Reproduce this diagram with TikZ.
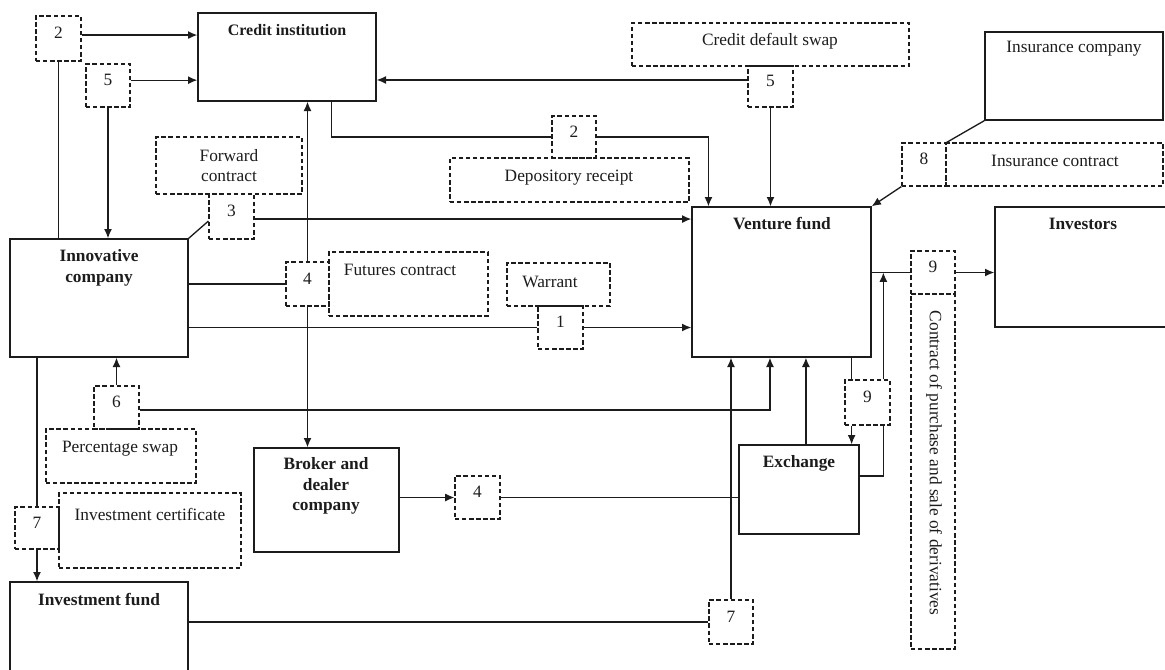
\documentclass[tikz,border=0pt]{standalone}
\usepackage{fontspec}
\setmainfont{Liberation Serif}
\usetikzlibrary{arrows.meta,calc,fit}
\definecolor{InkDark}{HTML}{1C1C1C}

\begin{document}
\begin{tikzpicture}[x=0.75pt,y=-0.75pt, color=InkDark, line width=1pt,
  every node/.style={font=\fontsize{13}{15}\selectfont},
  solidbox/.style={draw, inner sep=0pt},
  dashbox/.style={draw, line width=0.85pt, dash pattern=on 3.3pt off 2pt, inner sep=0pt, align=center},
  title/.style={font=\fontsize{13}{15.5}\selectfont\bfseries, align=center},
  arr/.style={-{Latex[length=7pt,width=6pt]}}]
  \useasboundingbox (0,0) rectangle (1165,669);
  % main boxes
  \node[solidbox, fit={(198,13) (376,101)}] (credit) {};
  \node[solidbox, fit={(985,32) (1163,120)}] (insco) {};
  \node[solidbox, fit={(692,207) (871,357)}] (venture) {};
  \node[solidbox, fit={(995,207) (1185,327)}] (investors) {};
  \node[solidbox, fit={(10,239) (188,357)}] (innov) {};
  \node[solidbox, fit={(254,448) (399,552)}] (broker) {};
  \node[solidbox, fit={(739,445) (859,534)}] (exchange) {};
  \node[solidbox, fit={(10,582) (188,690)}] (invfund) {};
  \node[title, font=\fontsize{12}{14}\selectfont\bfseries] (creditT) at (287,30) {Credit institution};
  \node (inscoT) at (1074,49) {Insurance company};
  \node[title] (ventureT) at (782,224) {Venture fund};
  \node[title] (investorsT) at (1083,224) {Investors};
  \node[title] (innovT) at (99,268) {Innovative\\company};
  \node[title] (brokerT) at (326,486) {Broker and\\dealer\\company};
  \node[title] (exchangeT) at (799,463) {Exchange};
  \node[title] (invfundT) at (99,599) {Investment fund};
  % contract boxes
  \node[dashbox, fit={(36,16) (81,61)}] (nA2) {2};
  \node[dashbox, fit={(86,64) (130,107)}] (nA5) {5};
  \node[dashbox, fit={(156,137) (302,194)}] (fwd) {};
  \node[align=center] (fwdT) at (229,166) {Forward\\contract};
  \node[dashbox, fit={(209,194) (254,239)}] (n3) {3};
  \node[dashbox, fit={(632,23) (909,66)}] (cds) {};
  \node (cdsT) at (770,41) {Credit default swap};
  \node[dashbox, fit={(748,66) (793,107)}] (nB5) {5};
  \node[dashbox, fit={(552,116) (596,158)}] (nB2) {2};
  \node[dashbox, fit={(450,158) (689,202)}] (dep) {};
  \node (depT) at (569,178) {Depository receipt};
  \node[dashbox, fit={(902,143) (946,186)}] (n8) {8};
  \node[dashbox, fit={(946,143) (1163,186)}] (inscon) {};
  \node (insconT) at (1055,161) {Insurance contract};
  \node[dashbox, fit={(286,262) (329,306)}] (n4) {4};
  \node[dashbox, fit={(329,252) (488,316)}] (fut) {};
  \node (futT) at (400,270) {Futures contract};
  \node[dashbox, fit={(507,263) (610,306)}] (warr) {};
  \node (warrT) at (550,282) {Warrant};
  \node[dashbox, fit={(538,306) (583,349)}] (n1) {1};
  \node[dashbox, fit={(94,386) (139,429)}] (n6) {6};
  \node[dashbox, fit={(46,429) (196,483)}] (pct) {};
  \node (pctT) at (120,449) {Percentage swap};
  \node[dashbox, fit={(15,507) (59,549)}] (nC7) {7};
  \node[dashbox, fit={(59,493) (241,568)}] (invc) {};
  \node (invcT) at (150,514) {Investment certificate};
  \node[dashbox, fit={(455,476) (500,519)}] (nC4) {4};
  \node[dashbox, fit={(709,600) (753,644)}] (nD7) {7};
  \node[dashbox, fit={(911,251) (955,294)}] (n9a) {9};
  \node[dashbox, fit={(911,294) (955,649)}] (contr) {};
  \node[rotate=-90] (contrT) at (934,463) {Contract of purchase and sale of derivatives};
  \node[dashbox, fit={(845,380) (890,425)}] (n9b) {9};
  % points on edges
  \coordinate (creditS) at ($(credit.south west)!0.747!(credit.south east)$);
  \coordinate (ventureNa) at ($(venture.north west)!0.095!(venture.north east)$);
  \coordinate (ventureSb) at ($(venture.south west)!0.436!(venture.south east)$);
  \coordinate (n9bNl) at ($(n9b.north west)!0.156!(n9b.north east)$);
  \coordinate (n9bSl) at ($(n9b.south west)!0.156!(n9b.south east)$);
  \coordinate (n9bNr) at ($(n9b.north west)!0.844!(n9b.north east)$);
  \coordinate (n9bSr) at ($(n9b.south west)!0.844!(n9b.south east)$);
  % connectors
  \draw[arr] ([yshift=2.6pt]nA2.east) -- ([yshift=2.6pt]nA2.east -| credit.west);
  \draw[arr] ([yshift=4pt]nA5.east) -- ([yshift=4pt]nA5.east -| credit.west);
  \draw (nA2.south) -- (nA2.south |- innov.north);
  \draw[arr] (nA5.south) -- (nA5.south |- innov.north);
  \draw[arr] (n4.north) -- (n4.north |- credit.south);
  \draw[arr] (n4.south) -- (n4.south |- broker.north);
  \draw (creditS) |- (nB2.west);
  \draw[arr] (nB2.east) -| (ventureNa);
  \draw[arr] ([yshift=4.9pt]nB5.west) -- ([yshift=4.9pt]nB5.west -| credit.east);
  \draw[arr] (nB5.south) -- (nB5.south |- venture.north);
  \draw[arr] ([yshift=-1.9pt]n3.east) -- ([yshift=-1.9pt]n3.east -| venture.west);
  \draw ([yshift=-3.4pt]n3.west) -- (innov.north east);
  \draw (innov.east |- n4.west) -- (n4.west);
  \draw (innov.east |- n1.west) -- (n1.west);
  \draw[arr] (n1.east) -- (n1.east -| venture.west);
  \draw[arr] (n6.north) -- (n6.north |- innov.south);
  \draw[arr] ([yshift=-1.9pt]n6.east) -| (ventureSb);
  \draw (innov.south -| nC7.north) -- (nC7.north);
  \draw[arr] (nC7.south) -- (nC7.south |- invfund.north);
  \draw[arr] (broker.east |- nC4.west) -- (nC4.west);
  \draw (nC4.east) -- (nC4.east -| exchange.west);
  \draw (invfund.east |- nD7.west) -- (nD7.west);
  \draw[arr] (nD7.north) -- (nD7.north |- venture.south);
  \draw[arr] ([xshift=5.2pt]exchange.north) -- ([xshift=5.2pt]exchange.north |- venture.south);
  \draw (n9bNl |- venture.south) -- (n9bNl);
  \draw[arr] (n9bSl) -- (n9bSl |- exchange.north);
  \draw ([yshift=10.1pt]exchange.east) -| (n9bSr);
  \draw[arr] (n9bNr) -- (n9bNr |- n9a.west);
  \draw (venture.east |- n9a.west) -- (n9a.west);
  \draw[arr] (n9a.east) -- (n9a.east -| investors.west);
  \draw[arr] (n8.south west) -- (venture.north east);
  \draw (insco.south west) -- (n8.north east);
\end{tikzpicture}
\end{document}
